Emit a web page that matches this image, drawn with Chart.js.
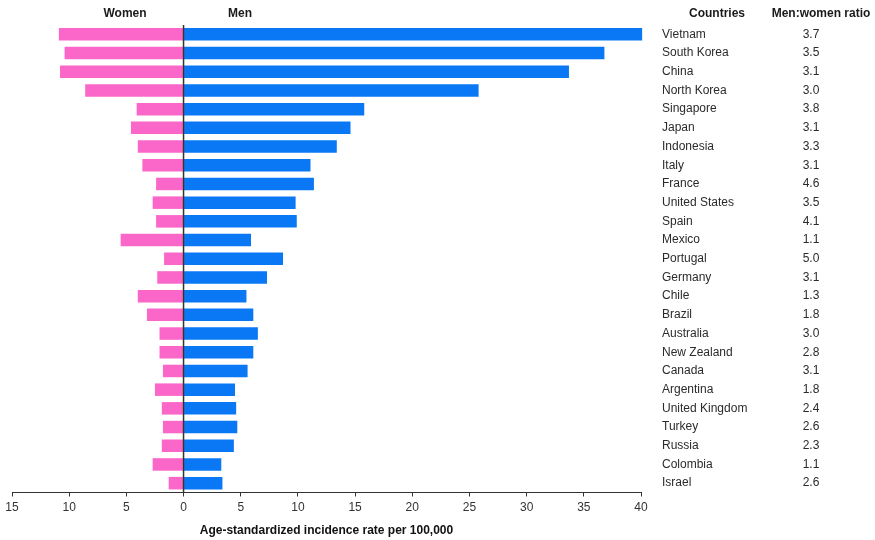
<!DOCTYPE html>
<html>
<head>
<meta charset="utf-8">
<script src="https://cdn.jsdelivr.net/npm/chart.js"></script>
<style>
  html, body { margin: 0; padding: 0; background: #fff; }
  #wrap { width: 875px; height: 540px; }
</style>
</head>
<body>
<div id="wrap"><canvas id="chart" width="875" height="540"></canvas></div>
<script>
// incidence per 100,000, read country by country
const countries = ['Vietnam', 'South Korea', 'China', 'North Korea', 'Singapore', 'Japan', 'Indonesia', 'Italy',
  'France', 'United States', 'Spain', 'Mexico', 'Portugal', 'Germany', 'Chile', 'Brazil', 'Australia',
  'New Zealand', 'Canada', 'Argentina', 'United Kingdom', 'Turkey', 'Russia', 'Colombia', 'Israel'];
const women = [10.9, 10.4, 10.8, 8.6, 4.1, 4.6, 4.0, 3.6, 2.4, 2.7, 2.4, 5.5, 1.7, 2.3, 4.0, 3.2, 2.1,
  2.1, 1.8, 2.5, 1.9, 1.8, 1.9, 2.7, 1.3];
const men = [40.1, 36.8, 33.7, 25.8, 15.8, 14.6, 13.4, 11.1, 11.4, 9.8, 9.9, 5.9, 8.7, 7.3, 5.5, 6.1, 6.5,
  6.1, 5.6, 4.5, 4.6, 4.7, 4.4, 3.3, 3.4];
const ratios = ['3.7', '3.5', '3.1', '3.0', '3.8', '3.1', '3.3', '3.1', '4.6', '3.5', '4.1', '1.1', '5.0',
  '3.1', '1.3', '1.8', '3.0', '2.8', '3.1', '1.8', '2.4', '2.6', '2.3', '1.1', '2.6'];
const xTicks = [-15, -10, -5, 0, 5, 10, 15, 20, 25, 30, 35, 40];

const FONT = '"Liberation Sans", Arial, Helvetica, sans-serif';
const PINK = '#fb67c9';
const BLUE = '#0a78f5';

// zero line, column headers and the country / ratio table on the right
const sidePlugin = {
  id: 'side',
  afterDatasetsDraw(chart) {
    const { ctx, chartArea, scales } = chart;
    const x0 = scales.x.getPixelForValue(0);
    ctx.save();
    ctx.strokeStyle = '#333';
    ctx.lineWidth = 1.5;
    ctx.beginPath();
    ctx.moveTo(x0, chartArea.top);
    ctx.lineTo(x0, chartArea.bottom);
    ctx.stroke();

    ctx.fillStyle = '#1a1a1a';
    ctx.font = 'bold 12px ' + FONT;
    ctx.textBaseline = 'middle';
    ctx.textAlign = 'center';
    ctx.fillText('Women', 125, 14);
    ctx.fillText('Men', 240, 14);
    ctx.fillText('Countries', 717, 14);
    ctx.fillText('Men:women ratio', 821, 14);

    ctx.font = '12px ' + FONT;
    ctx.fillStyle = '#2b2b2b';
    countries.forEach((name, i) => {
      const y = scales.y.getPixelForValue(i);
      ctx.textAlign = 'left';
      ctx.fillText(name, 662, y);
      ctx.textAlign = 'center';
      ctx.fillText(ratios[i], 811, y);
    });
    ctx.restore();
  }
};

new Chart(document.getElementById('chart'), {
  type: 'bar',
  data: {
    labels: countries,
    datasets: [
      { label: 'Women', data: women.map(v => -v), backgroundColor: PINK, clip: false },
      { label: 'Men', data: men, backgroundColor: BLUE, clip: false }
    ]
  },
  options: {
    indexAxis: 'y',
    responsive: false,
    animation: false,
    devicePixelRatio: 1,
    barPercentage: 0.67,
    categoryPercentage: 1,
    layout: { padding: { left: 12, right: 234, top: 25, bottom: 0 } },
    plugins: { legend: { display: false }, tooltip: { enabled: false } },
    scales: {
      x: {
        type: 'linear',
        stacked: true,
        min: -15,
        max: 40,
        afterBuildTicks: axis => { axis.ticks = xTicks.map(v => ({ value: v })); },
        afterFit: axis => { axis.height = 47.5; },
        ticks: {
          callback: v => Math.abs(v),
          color: '#333',
          font: { family: FONT, size: 12 },
          padding: 4,
          maxRotation: 0
        },
        grid: { drawOnChartArea: false, drawTicks: true, tickLength: 4, color: '#333', tickWidth: 1 },
        border: { display: true, color: '#333', width: 1 },
        title: {
          display: true,
          text: 'Age-standardized incidence rate per 100,000',
          color: '#111',
          font: { family: FONT, size: 12, weight: 'bold' },
          padding: { top: 6, bottom: 2 }
        }
      },
      y: { stacked: true, display: false }
    }
  },
  plugins: [sidePlugin]
});
</script>
</body>
</html>
